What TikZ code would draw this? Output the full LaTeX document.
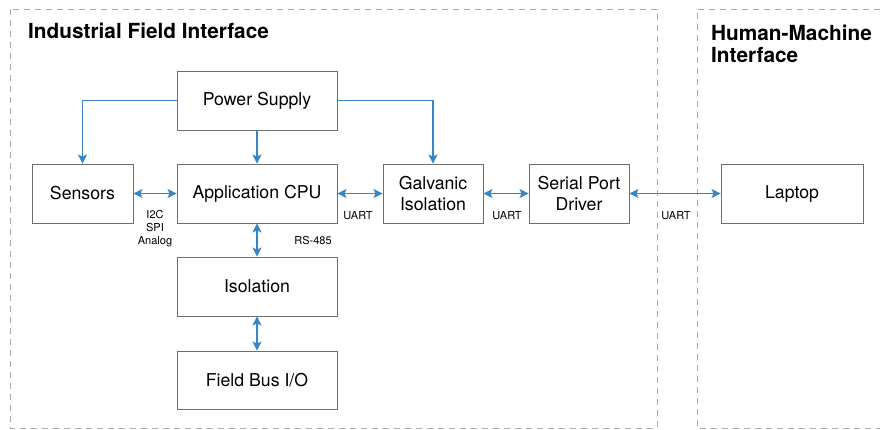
\documentclass[tikz,border=0pt]{standalone}
\usepackage{fontspec}
\setmainfont{TeX Gyre Heros}
\usetikzlibrary{arrows.meta}

\definecolor{linkblue}{RGB}{56,132,200}
\definecolor{boxgray}{RGB}{110,110,110}
\definecolor{framegray}{RGB}{170,170,170}

\tikzset{
  block/.style = {draw = boxgray, line width = 0.9pt, minimum height = 59pt, inner sep = 0pt,
                  align = center, font = \fontsize{17.7}{21}\selectfont},
  link/.style = {draw = linkblue, line width = 1.6pt},
  biarrow/.style = {link, {Stealth[length = 9pt, width = 9pt, inset = 2pt]}-{Stealth[length = 9pt, width = 9pt, inset = 2pt]}},
  onearrow/.style = {link, -{Stealth[length = 9pt, width = 9pt, inset = 2pt]}},
  busname/.style = {font = \fontsize{11}{13}\selectfont, inner sep = 0pt, align = center},
  zoneframe/.style = {draw = framegray, line width = 0.9pt, dash pattern = on 6pt off 5pt},
  areaname/.style = {font = \bfseries\fontsize{20.8}{22}\selectfont, inner sep = 0pt, align = left}
}

\begin{document}
\begin{tikzpicture}[x = 1pt, y = -1pt]
        \useasboundingbox (0,0) rectangle (880,430);

        % zones
        \draw [zoneframe] (10,9) rectangle (657,428);
        \draw [zoneframe] (880,9) -- (697,9) -- (697,428) -- (880,428);
        \node [areaname, anchor = base west] (ifi) at (28,39) {Industrial Field Interface};
        \node [areaname, anchor = north west] (hmi) at (711,24.5) {Human-Machine\\Interface};

        % blocks
        \node [block, minimum width = 160pt] (power) at (257,100.5) {Power Supply};
        \node [block, minimum width = 101pt] (sensors) at (82.5,193.5) {Sensors};
        \node [block, minimum width = 160pt] (cpu) at (257,193.5) {Application CPU};
        \node [block, minimum width = 100pt] (galv) at (433,193.5) {Galvanic\\Isolation};
        \node [block, minimum width = 100pt] (serial) at (579,193.5) {Serial Port\\Driver};
        \node [block, minimum width = 142pt] (laptop) at (792,193.5) {Laptop};
        \node [block, minimum width = 160pt] (iso) at (257,286.5) {Isolation};
        \node [block, minimum width = 160pt, minimum height = 58pt] (fieldbus) at (257,380) {Field Bus I/O};

        % power
        \draw [onearrow] (power) -- (cpu);
        \draw [onearrow] (power.west) -| (sensors.north);
        \draw [onearrow] (power.east) -| (galv.north);

        % data links
        \draw [biarrow] (sensors) -- (cpu);
        \draw [biarrow] (cpu) -- (galv);
        \draw [biarrow] (galv) -- (serial);
        \draw [biarrow] (serial) -- (laptop);
        \draw [biarrow] (cpu) -- (iso);
        \draw [biarrow] (iso) -- (fieldbus);

        \node [busname] (sensbus) at (155,228.5) {I2C\\SPI\\Analog};
        \node [busname] (uartcpu) at (358,216) {UART};
        \node [busname] (uartgalv) at (507,216) {UART};
        \node [busname] (uartpc) at (676,216) {UART};
        \node [busname] (rsbus) at (313,240) {RS-485};
    \end{tikzpicture}
\end{document}
